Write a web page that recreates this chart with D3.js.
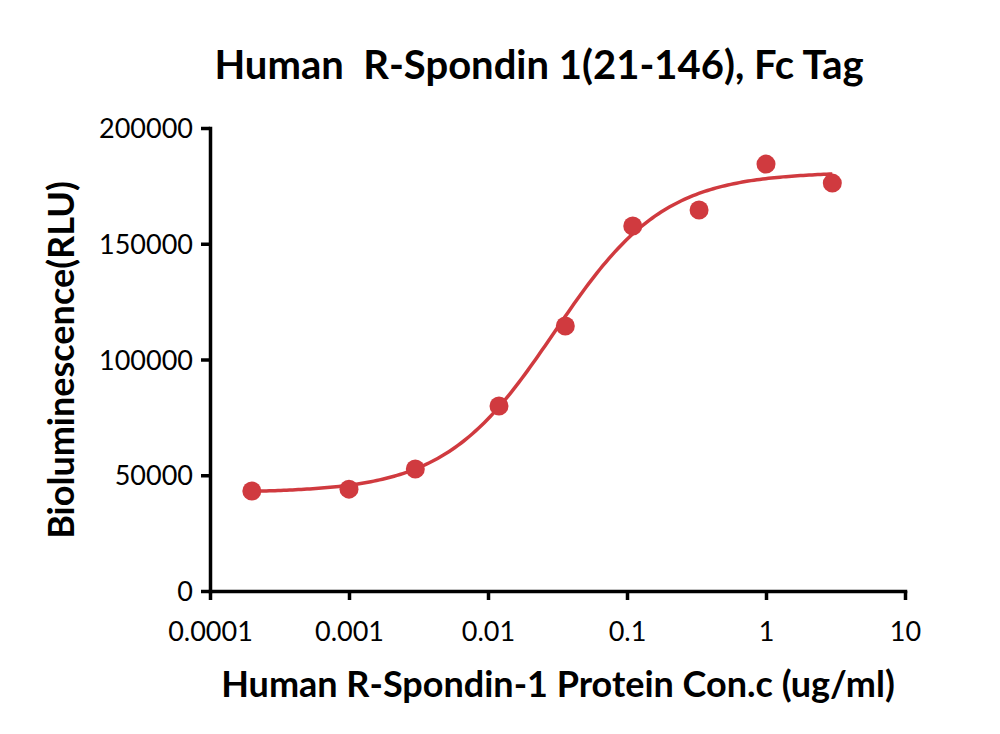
<!DOCTYPE html>
<html><head><meta charset="utf-8">
<script src="https://cdn.jsdelivr.net/npm/d3@7"></script>
<style>
html,body{margin:0;padding:0;background:#fff;}
svg{display:block;font-family:Lato, "Open Sans", sans-serif;}
</style></head>
<body>
<svg id="chart" width="1000" height="734"></svg>
<script>
// Data
const concentrations = [0.0002, 0.001, 0.003, 0.012, 0.036, 0.11, 0.33, 1, 3];
const rlu = [43200, 44000, 52700, 79900, 114500, 157700, 164600, 184400, 176200];
// Four-parameter logistic fit shown in the reference
const fitBottom = 42500, fitTop = 181000, fitEC50 = 0.030, fitHill = 1.1;
const xTicks = [0.0001, 0.001, 0.01, 0.1, 1, 10];
const xTickLabels = ["0.0001", "0.001", "0.01", "0.1", "1", "10"];
const yTicks = [0, 50000, 100000, 150000, 200000];
const titleText = "Human  R-Spondin 1(21-146), Fc Tag";
const xTitle = "Human R-Spondin-1 Protein Con.c (ug/ml)";
const yTitle = "Bioluminescence(RLU)";

const red = "#d03a3f";
const svg = d3.select("#chart");
const x = d3.scaleLog().domain([0.0001, 10]).range([210, 905]);
const y = d3.scaleLinear().domain([0, 200000]).range([591, 128]);

// Axes
const xAxis = svg.append("g").attr("transform", "translate(0,591)")
  .call(d3.axisBottom(x).tickValues(xTicks).tickFormat((d, i) => xTickLabels[i]).tickSize(9).tickSizeOuter(0));
const yAxis = svg.append("g").attr("transform", "translate(210,0)")
  .call(d3.axisLeft(y).tickValues(yTicks).tickFormat(d3.format("d")).tickSize(9).tickSizeOuter(0));
[xAxis, yAxis].forEach(a => {
  a.select(".domain").attr("stroke", "#000").attr("stroke-width", 3.5).attr("stroke-linecap", "square");
  a.selectAll(".tick line").attr("stroke", "#000").attr("stroke-width", 3.5);
  a.selectAll(".tick text").attr("fill", "#000").style("font-size", "27px").style("font-family", "Lato, sans-serif");
});
xAxis.selectAll(".tick text").attr("dy", "0").attr("y", 50);
yAxis.selectAll(".tick text").attr("x", -17).attr("dy", "0.36em");

// Fit curve
const logMin = Math.log10(concentrations[0]), logMax = Math.log10(concentrations[concentrations.length - 1]);
const curve = d3.range(0, 201).map(i => {
  const c = Math.pow(10, logMin + (logMax - logMin) * i / 200);
  return [c, fitBottom + (fitTop - fitBottom) / (1 + Math.pow(fitEC50 / c, fitHill))];
});
svg.append("path").datum(curve)
  .attr("fill", "none").attr("stroke", red).attr("stroke-width", 3.5)
  .attr("d", d3.line().x(d => x(d[0])).y(d => y(d[1])).curve(d3.curveLinear));

// Points
svg.append("g").selectAll("circle").data(concentrations).join("circle")
  .attr("cx", d => x(d)).attr("cy", (d, i) => y(rlu[i])).attr("r", 9.5).attr("fill", red);

// Titles
svg.append("text").attr("x", 539).attr("y", 79).attr("text-anchor", "middle")
  .attr("xml:space", "preserve").style("white-space", "pre")
  .style("font-size", "40px").style("font-weight", "bold").text(titleText);
svg.append("text").attr("x", 558).attr("y", 697).attr("text-anchor", "middle")
  .style("font-size", "36px").style("font-weight", "bold").text(xTitle);
svg.append("text").attr("transform", "translate(74,360) rotate(-90)").attr("text-anchor", "middle")
  .style("font-size", "36px").style("font-weight", "bold").text(yTitle);
</script>
</body></html>
